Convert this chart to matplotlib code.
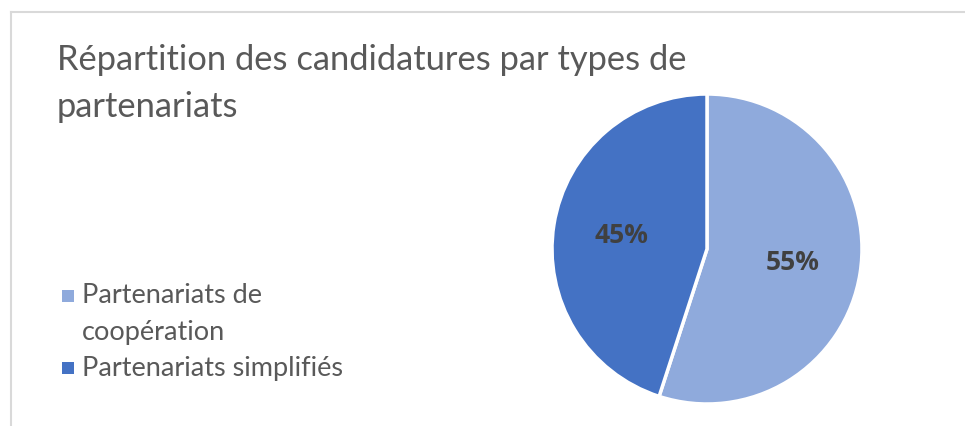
import matplotlib
matplotlib.use('Agg')
from matplotlib import pyplot as plt
from matplotlib.lines import Line2D
from matplotlib.patches import Rectangle

# share of applications per partnership type
categories = ["Partenariats de\ncoopération", "Partenariats simplifiés"]
shares = [55, 45]
colors = ["#8FAADC", "#4472C4"]

W, H, DPI = 965, 426, 100
plt.rcParams['font.family'] = ['Lato', 'DejaVu Sans']
TEXT = "#595959"

fig = plt.figure(figsize=(W / DPI, H / DPI), dpi=DPI)
fig.patch.set_facecolor("white")


def fx(px):
    return px / W


def fy(py):
    return 1 - py / H


# light chart frame (runs off the right and bottom edges)
frame = "#D9D9D9"
fig.add_artist(Line2D([fx(11), 1.01], [fy(12), fy(12)], color=frame, lw=1.5))
fig.add_artist(Line2D([fx(11), fx(11)], [fy(12), -0.01], color=frame, lw=1.5))

# pie, centred at (707, 249) px with a 155 px radius
cx, cy, r = 707, 249, 157
ax = fig.add_axes([fx(cx - r), fy(cy + r), 2 * r / W, 2 * r / H])
wedges, texts, autotexts = ax.pie(
    shares, colors=colors, startangle=90, counterclock=False,
    autopct="%d%%", pctdistance=0.56,
    wedgeprops=dict(edgecolor="white", linewidth=2.5),
    textprops=dict(color="#404040", fontsize=19, fontweight="bold",
                   family=["Open Sans", "DejaVu Sans"]))
ax.set_xlim(-1.013, 1.013)
ax.set_ylim(-1.013, 1.013)
ax.set_aspect("equal")
ax.axis("off")

# two-line title
for line, base in zip(["Répartition des candidatures par types de",
                       "partenariats"], [70, 117]):
    fig.text(fx(57), fy(base), line, fontsize=24.8, color=TEXT,
             ha="left", va="baseline")

# legend: square swatch beside the first line of each label
rows = [(303, 296), (376, 368)]
for label, color, (base, mid) in zip(categories, colors, rows):
    s = 12
    fig.add_artist(Rectangle((fx(62), fy(mid + s / 2)), s / W, s / H,
                             facecolor=color, edgecolor="none"))
    for i, part in enumerate(label.split("\n")):
        fig.text(fx(82), fy(base + 37 * i), part, fontsize=19.5,
                 color=TEXT, ha="left", va="baseline")

fig.savefig("out.png", dpi=DPI, facecolor="white")
